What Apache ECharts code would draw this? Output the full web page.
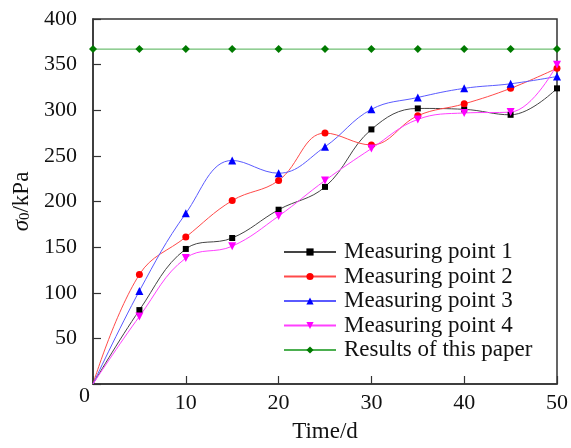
<!DOCTYPE html>
<html>
<head>
<meta charset="utf-8">
<script src="https://cdn.jsdelivr.net/npm/echarts@6/dist/echarts.min.js"></script>
<style>html,body{margin:0;padding:0;background:#fff}#c{width:571px;height:448px}</style>
</head>
<body>
<div id="c"></div>
<script>
var days = [0, 5, 10, 15, 20, 25, 30, 35, 40, 45, 50];
var point1 = [0, 81, 148, 160, 191, 216, 279, 302, 301, 295, 324];
var point2 = [0, 120, 161, 201, 223, 275, 262, 294, 307, 324, 346];
var point3 = [0, 102, 187, 245, 231, 260, 301, 314, 324, 329, 337];
var point4 = [0, 74, 138, 151, 184, 223, 258, 290, 297, 298, 350];
var paper = [367, 367, 367, 367, 367, 367, 367, 367, 367, 367, 367];
var seriesNames = ['Measuring point 1', 'Measuring point 2', 'Measuring point 3', 'Measuring point 4', 'Results of this paper'];
var xTicks = [0, 10, 20, 30, 40, 50];
var yTicks = [0, 50, 100, 150, 200, 250, 300, 350, 400];

function pairs(arr, hideOrigin) {
  return days.map(function (d, i) {
    if (hideOrigin && i === 0) return { value: [d, arr[i]], symbol: 'none' };
    return [d, arr[i]];
  });
}

var font = 'Liberation Serif, Times New Roman, serif';
var chart = echarts.init(document.getElementById('c'));

function mk(name, data, lineColor, markColor, symbol, size, rotate, smooth, hideOrigin) {
  return {
    name: name, type: 'line', data: pairs(data, hideOrigin), smooth: smooth,
    symbol: symbol, symbolSize: size, symbolRotate: rotate || 0,
    lineStyle: { color: lineColor, width: 1 },
    itemStyle: { color: markColor },
    emphasis: { disabled: true }, animation: false
  };
}

chart.setOption({
  animation: false,
  grid: { left: 93, top: 19, right: 12, bottom: 57, show: true, borderColor: '#333', borderWidth: 1.5, backgroundColor: 'transparent' },
  legend: {
    orient: 'vertical', left: 283, top: 240, padding: 0,
    itemWidth: 52, itemHeight: 9, itemGap: 0.5,
    data: seriesNames,
    textStyle: { fontFamily: font, fontSize: 23, color: '#111', lineHeight: 24, padding: [0, 0, 0, 3] }
  },
  xAxis: {
    type: 'value', min: 0, max: 50, interval: 10,
    name: 'Time/d', nameLocation: 'middle', nameGap: 36,
    nameTextStyle: { fontFamily: font, fontSize: 23, color: '#111' },
    axisLine: { show: true, lineStyle: { color: '#333', width: 1.5 } },
    axisTick: { show: true, inside: true, length: 8, lineStyle: { color: '#333', width: 1.2 } },
    axisLabel: { fontFamily: font, fontSize: 22, color: '#111', margin: 8,
      formatter: function (v) { return v === 0 ? '' : String(v); } },
    splitLine: { show: false }
  },
  yAxis: {
    type: 'value', min: 0, max: 400, interval: 50,
    name: '{i|σ}{s|0}{n|/kPa}', nameLocation: 'middle', nameGap: 60,
    nameTextStyle: { fontFamily: font, fontSize: 23, color: '#111',
      rich: {
        i: { fontFamily: font, fontSize: 23, fontStyle: 'italic', color: '#111' },
        s: { fontFamily: font, fontSize: 15, color: '#111', verticalAlign: 'bottom', padding: [8, 0, 0, 0] },
        n: { fontFamily: font, fontSize: 23, color: '#111' }
      } },
    axisLine: { show: true, lineStyle: { color: '#333', width: 1.5 } },
    axisTick: { show: true, inside: true, length: 8, lineStyle: { color: '#333', width: 1.2 } },
    axisLabel: { margin: 0,
      formatter: function (v) { return v === 0 ? '{o|0}' : '{a|' + v + '}'; },
      rich: {
        a: { fontFamily: font, fontSize: 22, color: '#111', padding: [0, 16, 0, 0] },
        o: { fontFamily: font, fontSize: 22, color: '#111', padding: [24, 3, 0, 0] }
      } },
    splitLine: { show: false }
  },
  series: [
    mk(seriesNames[0], point1, '#444', '#000', 'rect', 6, 0, 0.4, true),
    mk(seriesNames[1], point2, '#ff4a4a', '#ff0000', 'circle', 7, 0, 0.4, true),
    mk(seriesNames[2], point3, '#5a5aff', '#0000ff', 'triangle', 8, 0, 0.4, true),
    mk(seriesNames[3], point4, '#ff40ff', '#ff00ff', 'triangle', 8, 180, 0.4, true),
    mk(seriesNames[4], paper, '#4caf50', '#007a00', 'diamond', 8, 0, false, false)
  ]
});
</script>
</body>
</html>
